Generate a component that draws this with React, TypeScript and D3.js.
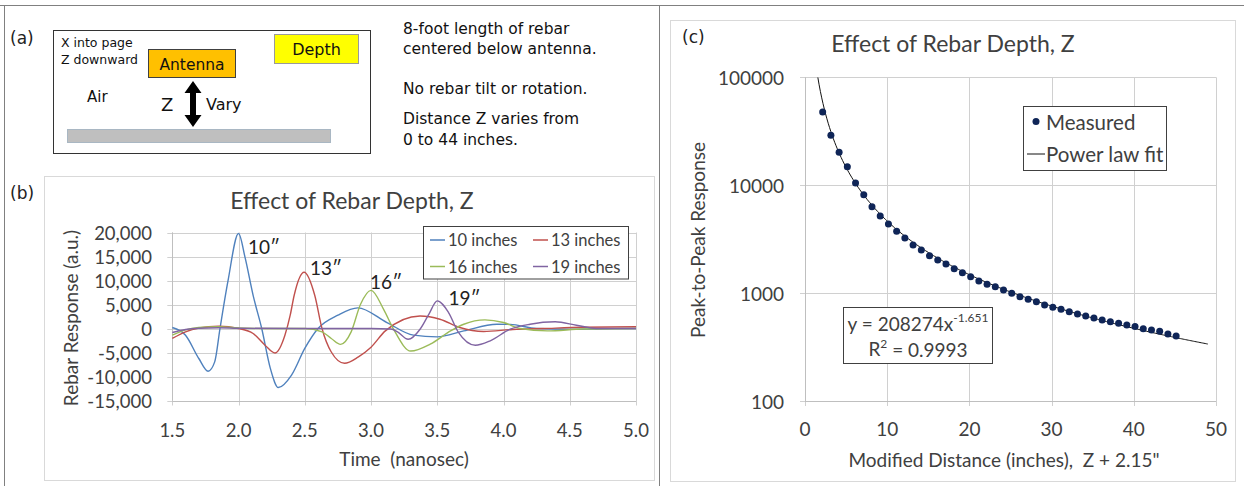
import React from "react";
import * as d3 from "d3";

// ---------- Panel (b): waveform data ----------
const timeTicks = [1.5, 2.0, 2.5, 3.0, 3.5, 4.0, 4.5, 5.0];
const responseTicks = [-15000, -10000, -5000, 0, 5000, 10000, 15000, 20000];
const seriesNames = ["10 inches", "13 inches", "16 inches", "19 inches"];
const seriesColors = ["#4F81BD", "#C0504D", "#9BBB59", "#8064A2"];
const peakLabels = ["10\u2033", "13\u2033", "16\u2033", "19\u2033"];
const peakLabelTimes = [2.072, 2.54, 2.993, 3.585];
const peakLabelValues = [17150, 12640, 9850, 6390];

const time10 = [1.5, 1.6, 1.7, 1.77, 1.82, 1.86, 1.92, 2.0, 2.05, 2.11, 2.175, 2.24, 2.3, 2.4, 2.5, 2.6, 2.75, 2.9, 3.12, 3.32, 3.5, 3.7, 3.95, 4.05, 4.25, 4.5, 4.75, 5.0];
const resp10 = [200, -1400, -6250, -8900, -6950, 0, 9860, 19800, 14700, 6900, 0, -8300, -12300, -9700, -4150, 0, 2770, 4300, 1240, -1390, -1740, -500, 890, 850, 0, -150, -50, 0];

const time13 = [1.5, 1.6, 1.7, 1.85, 2.0, 2.11, 2.2, 2.275, 2.35, 2.39, 2.42, 2.495, 2.575, 2.63, 2.7, 2.8, 2.905, 3.0, 3.108, 3.37, 3.52, 3.67, 3.85, 4.07, 4.3, 4.6, 5.0];
const resp13 = [-2080, -700, 100, 480, 0, -1040, -3470, -5100, -1400, 2770, 6930, 11730, 6930, 0, -4900, -7250, -5900, -3900, -500, 2610, 1930, 200, -620, -200, 0, 250, 350];

const time16 = [1.5, 1.6, 1.7, 1.85, 2.0, 2.2, 2.5, 2.63, 2.7, 2.77, 2.85, 2.92, 3.0, 3.095, 3.17, 3.3, 3.447, 3.6, 3.7, 3.86, 4.0, 4.125, 4.33, 4.6, 5.0];
const resp16 = [-1400, -300, 200, 400, 100, 0, 0, -700, -2080, -3300, -700, 5000, 7950, 4000, -150, -4700, -3260, -500, 890, 1790, 1240, 0, -500, -100, 0];

const time19 = [1.5, 1.6, 1.7, 1.85, 2.0, 2.5, 3.0, 3.15, 3.2, 3.28, 3.37, 3.437, 3.5, 3.585, 3.66, 3.787, 3.9, 4.05, 4.2, 4.39, 4.55, 4.7, 5.0];
const resp19 = [-830, -200, 50, 150, 50, 0, 0, -100, -700, -2250, -150, 3000, 5750, 3320, -830, -3500, -2570, -150, 890, 1400, 690, 0, 0];

const seriesTimes = [time10, time13, time16, time19];
const seriesResps = [resp10, resp13, resp16, resp19];

// ---------- Panel (c): peak-to-peak data ----------
const depthZ = [0, 1, 2, 3, 4, 5, 6, 7, 8, 9, 10, 11, 12, 13, 14, 15, 16, 17, 18, 19, 20, 21, 22, 23, 24, 25, 26, 27, 28, 29, 30, 31, 32, 33, 34, 35, 36, 37, 38, 39, 40, 41, 42, 43];
const peakToPeak = [47700, 29000, 20200, 14800, 10500, 8160, 6320, 5180, 4370, 3740, 3240, 2790, 2510, 2220, 2030, 1860, 1680, 1545, 1420, 1295, 1207, 1147, 1069, 995, 926, 876, 832, 776, 738, 708, 673, 640, 613, 588, 563, 543, 525, 506, 489, 468, 455, 442, 418, 400];
const distanceOffset = 2.15;
const fitA = 208274;
const fitB = -1.651;
const fitEnd = 49;
const distTicks = [0, 10, 20, 30, 40, 50];
const ppTicks = [100, 1000, 10000, 100000];

const setupNotes = [
  "8-foot length of rebar",
  "centered below antenna.",
  "No rebar tilt or rotation.",
  "Distance Z varies from",
  "0 to 44 inches.",
];
const setupNoteRows = [29, 49, 89, 119, 140];

const LATO = "Lato, 'Open Sans', sans-serif";
const DV = "'DejaVu Sans', sans-serif";
const px = (v: number) => Math.round(v) + 0.5;

export default function App() {
  // scales (b)
  const xB = d3.scaleLinear().domain([1.5, 5]).range([172.3, 636]);
  const yB = d3.scaleLinear().domain([-15000, 20000]).range([400.5, 232.5]);
  const fmtB = d3
    .formatLocale({ decimal: ".", thousands: ",", grouping: [3], currency: ["", ""], minus: "-" })
    .format(",");
  const lineB = d3
    .line<[number, number]>()
    .x((d) => xB(d[0]))
    .y((d) => yB(d[1]))
    .curve(d3.curveMonotoneX);

  // scales (c)
  const xC = d3.scaleLinear().domain([0, 50]).range([805, 1216]);
  const yC = d3.scaleLog().domain([100, 100000]).range([401, 77.3]);
  const fitStart = Math.pow(100000 / fitA, 1 / fitB);
  const fitPts: [number, number][] = d3
    .range(0, 301)
    .map((i) => fitStart + ((fitEnd - fitStart) * i) / 300)
    .map((x) => [x, fitA * Math.pow(x, fitB)]);
  const lineC = d3
    .line<[number, number]>()
    .x((d) => xC(d[0]))
    .y((d) => yC(d[1]))
    .curve(d3.curveLinear);

  const gridColor = "#D0D0D0";
  const axisColor = "#BFBFBF";
  const tickText = "#404040";

  // arrow geometry for (a)
  const ax = 193, aTop = 81, aBot = 127, hh = 12, hw = 8.5, sw = 3;
  const arrowPath = `M${ax},${aTop} L${ax + hw},${aTop + hh} L${ax + sw},${aTop + hh} L${ax + sw},${aBot - hh} L${ax + hw},${aBot - hh} L${ax},${aBot} L${ax - hw},${aBot - hh} L${ax - sw},${aBot - hh} L${ax - sw},${aTop + hh} L${ax - hw},${aTop + hh} Z`;

  return (
    <svg
      width={1244}
      height={486}
      style={{ position: "absolute", left: 0, top: 0, background: "#fff" }}
    >
      <rect x={0} y={0} width={1244} height={486} fill="#fff" />
      {/* outer frame */}
      <line x1={0} y1={5.5} x2={1244} y2={5.5} stroke="#808080" />
      <line x1={4.5} y1={5} x2={4.5} y2={486} stroke="#808080" />
      <line x1={659.5} y1={5} x2={659.5} y2={486} stroke="#808080" />

      {/* ---------------- Panel (a) ---------------- */}
      <text x={10} y={38} dominantBaseline="central" fontFamily={DV} fontSize={17} fill="#222">(a)</text>
      <rect x={53.5} y={30.5} width={317} height={123} fill="#fff" stroke="#333" />
      <text x={61} y={42} dominantBaseline="central" fontFamily={DV} fontSize={12.5} fill="#111">X into page</text>
      <text x={61} y={59} dominantBaseline="central" fontFamily={DV} fontSize={12.5} fill="#111">Z downward</text>
      <rect x={148.5} y={49.5} width={87} height={28} fill="#FFC000" stroke="#404040" />
      <text x={192} y={64.5} textAnchor="middle" dominantBaseline="central" fontFamily={DV} fontSize={15.5} fill="#111">Antenna</text>
      <rect x={274.5} y={34.5} width={84} height={29} fill="#FFFF00" stroke="#9A9A9A" />
      <text x={316.5} y={49} textAnchor="middle" dominantBaseline="central" fontFamily={DV} fontSize={16} fill="#111">Depth</text>
      <text x={87} y={97} dominantBaseline="central" fontFamily={DV} fontSize={15} fill="#111">Air</text>
      <text x={161} y={104} dominantBaseline="central" fontFamily={DV} fontSize={18} fill="#111">Z</text>
      <path d={arrowPath} fill="#000" />
      <text x={206} y={104} dominantBaseline="central" fontFamily={DV} fontSize={16} fill="#111">Vary</text>
      <rect x={67.5} y={129.5} width={263} height={13} fill="#BFBFBF" stroke="#A9B7C3" />
      {setupNotes.map((t, i) => (
        <text key={t} x={403} y={setupNoteRows[i]} dominantBaseline="central" fontFamily={DV} fontSize={15.5} fill="#111">
          {t}
        </text>
      ))}

      {/* ---------------- Panel (b) ---------------- */}
      <text x={10} y={193} dominantBaseline="central" fontFamily={DV} fontSize={17} fill="#222">(b)</text>
      <rect x={44.5} y={176.5} width={610} height={304} fill="#fff" stroke="#D9D9D9" />
      <text x={352} y={200} textAnchor="middle" dominantBaseline="central" fontFamily={LATO} fontSize={23} fill="#404040">
        Effect of Rebar Depth, Z
      </text>
      {responseTicks.map((v) => (
        <g key={"hb" + v}>
          <line x1={xB(1.5) - 5} x2={xB(5)} y1={px(yB(v))} y2={px(yB(v))} stroke={gridColor} />
          <text x={152} y={yB(v)} textAnchor="end" dominantBaseline="central" fontFamily={LATO} fontSize={18.5} fill={tickText}>
            {fmtB(v)}
          </text>
        </g>
      ))}
      {timeTicks.map((t) => (
        <g key={"vb" + t}>
          <line x1={px(xB(t))} x2={px(xB(t))} y1={yB(20000)} y2={yB(-15000) + 5} stroke={gridColor} />
          <text x={xB(t)} y={430} textAnchor="middle" dominantBaseline="central" fontFamily={LATO} fontSize={18.5} fill={tickText}>
            {t.toFixed(1)}
          </text>
        </g>
      ))}
      <line x1={px(xB(1.5))} x2={px(xB(1.5))} y1={yB(20000)} y2={yB(-15000)} stroke={axisColor} />
      <line x1={xB(1.5)} x2={xB(5)} y1={px(yB(-15000))} y2={px(yB(-15000))} stroke={axisColor} />
      {seriesTimes.map((ts, i) => (
        <path
          key={"s" + i}
          d={lineB(ts.map((t, j) => [t, seriesResps[i][j]] as [number, number])) || ""}
          fill="none"
          stroke={seriesColors[i]}
          strokeWidth={1.4}
        />
      ))}
      {peakLabels.map((l, i) => (
        <text key={l} x={xB(peakLabelTimes[i])} y={yB(peakLabelValues[i])} dominantBaseline="central" fontFamily={LATO} fontSize={19} fill="#222">
          {l}
        </text>
      ))}
      <text x={404} y={458} textAnchor="middle" dominantBaseline="central" fontFamily={LATO} fontSize={19} fill="#404040">
        {"Time\u00a0 (nanosec)"}
      </text>
      <text
        transform={`translate(70,318) rotate(-90)`}
        textAnchor="middle"
        dominantBaseline="central"
        fontFamily={LATO}
        fontSize={19}
        fill="#404040"
      >
        Rebar Response (a.u.)
      </text>
      {/* legend (b) */}
      <rect x={423.5} y={226.5} width={205} height={52.5} fill="#fff" stroke="#404040" />
      {seriesNames.map((n, i) => {
        const lx = i % 2 === 0 ? 430 : 533;
        const ly = i < 2 ? 240 : 266.5;
        return (
          <g key={n}>
            <line x1={lx} x2={lx + 15} y1={ly} y2={ly} stroke={seriesColors[i]} strokeWidth={1.5} />
            <text x={lx + 18} y={ly} dominantBaseline="central" fontFamily={LATO} fontSize={16.5} fill="#404040">
              {n}
            </text>
          </g>
        );
      })}

      {/* ---------------- Panel (c) ---------------- */}
      <rect x={670.5} y={20.5} width={565} height={461} fill="#fff" stroke="#D9D9D9" />
      <text x={682} y={37} dominantBaseline="central" fontFamily={DV} fontSize={17} fill="#222">(c)</text>
      <text x={953} y={43} textAnchor="middle" dominantBaseline="central" fontFamily={LATO} fontSize={23} fill="#404040">
        Effect of Rebar Depth, Z
      </text>
      {ppTicks.map((v) => (
        <g key={"hc" + v}>
          <line x1={xC(0) - 5} x2={xC(50)} y1={px(yC(v))} y2={px(yC(v))} stroke={gridColor} />
          <text x={784} y={yC(v)} textAnchor="end" dominantBaseline="central" fontFamily={LATO} fontSize={19} fill={tickText}>
            {String(v)}
          </text>
        </g>
      ))}
      {distTicks.map((t) => (
        <g key={"vc" + t}>
          <line x1={px(xC(t))} x2={px(xC(t))} y1={yC(100000)} y2={yC(100) + 5} stroke={gridColor} />
          <text x={xC(t)} y={428} textAnchor="middle" dominantBaseline="central" fontFamily={LATO} fontSize={19} fill={tickText}>
            {String(t)}
          </text>
        </g>
      ))}
      <line x1={px(xC(0))} x2={px(xC(0))} y1={yC(100000)} y2={yC(100)} stroke={axisColor} />
      <line x1={xC(0)} x2={xC(50)} y1={px(yC(100))} y2={px(yC(100))} stroke={axisColor} />
      <defs>
        <clipPath id="clipC">
          <rect x={xC(0)} y={yC(100000)} width={xC(50) - xC(0)} height={yC(100) - yC(100000)} />
        </clipPath>
      </defs>
      <path d={lineC(fitPts) || ""} fill="none" stroke="#111" strokeWidth={1} clipPath="url(#clipC)" />
      {depthZ.map((z, i) => (
        <circle key={"p" + z} cx={xC(z + distanceOffset)} cy={yC(peakToPeak[i])} r={3.5} fill="#0F2557" />
      ))}
      <text x={1004} y={459} textAnchor="middle" dominantBaseline="central" fontFamily={LATO} fontSize={19} fill="#404040">
        {"Modified Distance (inches),\u00a0 Z + 2.15\""}
      </text>
      <text
        transform={`translate(697,240) rotate(-90)`}
        textAnchor="middle"
        dominantBaseline="central"
        fontFamily={LATO}
        fontSize={19}
        fill="#404040"
      >
        Peak-to-Peak Response
      </text>
      {/* legend (c) */}
      <rect x={1023.5} y={106.5} width={143} height={64} fill="#fff" stroke="#404040" />
      <circle cx={1036} cy={121.5} r={3.5} fill="#0F2557" />
      <text x={1046} y={121.5} dominantBaseline="central" fontFamily={LATO} fontSize={20.5} fill="#404040">Measured</text>
      <line x1={1027} x2={1045} y1={154} y2={154} stroke="#111" strokeWidth={1} />
      <text x={1046} y={154} dominantBaseline="central" fontFamily={LATO} fontSize={20.5} fill="#404040">Power law fit</text>
      {/* equation box */}
      <rect x={843.5} y={307.5} width={149} height={56} fill="#fff" stroke="#404040" />
      <text x={918} y={323} textAnchor="middle" dominantBaseline="central" fontFamily={LATO} fontSize={19} fill="#404040">
        {`y = ${fitA}x`}
        <tspan fontSize={12} dy={-6}>{String(fitB)}</tspan>
      </text>
      <text x={918} y={348.5} textAnchor="middle" dominantBaseline="central" fontFamily={LATO} fontSize={19} fill="#404040">
        R
        <tspan fontSize={12} dy={-6}>2</tspan>
        <tspan dy={6}> = 0.9993</tspan>
      </text>
    </svg>
  );
}
